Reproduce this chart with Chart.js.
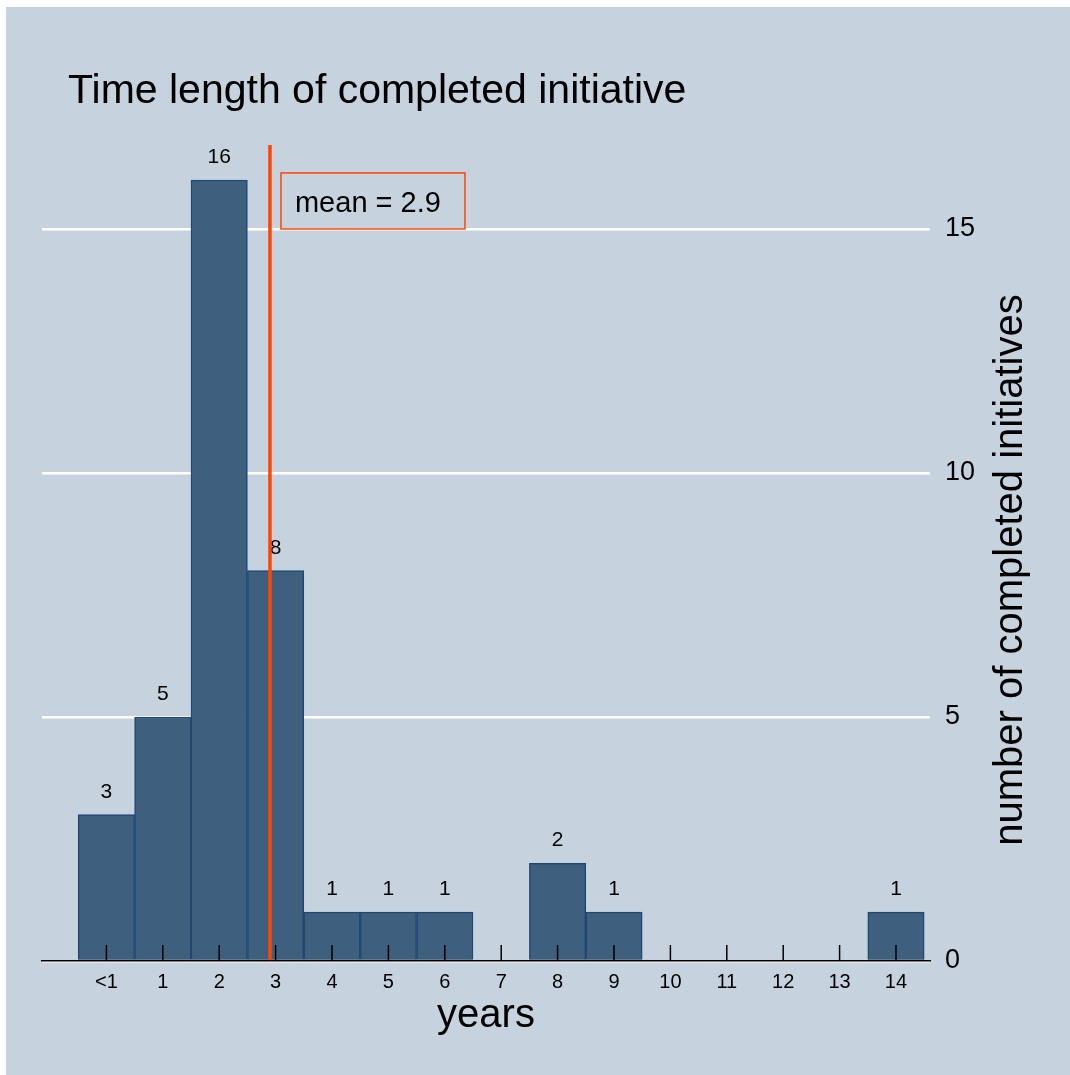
<!doctype html>
<html lang="en">
  <head>
    <title>Time length of completed initiative</title>
    <style>
      body {
        margin: 0;
        background: #ffffff;
      }

      .chart-frame {
        position: absolute;
        left: 6px;
        top: 7px;
        width: 1064px;
        height: 1068px;
        background: #c6d3df;
      }

      canvas {
        display: block;
      }
    </style>
  </head>

  <body>
    <div class="chart-frame">
      <canvas id="timeChart" width="1064" height="1068"></canvas>
    </div>

    <script src="https://cdn.jsdelivr.net/npm/chart.js@4/dist/chart.umd.min.js"></script>
    <script type="text/javascript">
      // Chart data
      const yearLabels = ["<1", "1", "2", "3", "4", "5", "6", "7", "8", "9", "10", "11", "12", "13", "14"];
      const yearPositions = [0, 1, 2, 3, 4, 5, 6, 7, 8, 9, 10, 11, 12, 13, 14];
      const initiativeCounts = [3, 5, 16, 8, 1, 1, 1, 0, 2, 1, 0, 0, 0, 0, 1];
      const countTicks = [0, 5, 10, 15];
      const meanYears = 2.9;
      const meanLabel = "mean = 2.9";
      const chartTitle = "Time length of completed initiative";
      const yTitle = "number of completed initiatives";
      const xTitle = "years";

      const fontFamily = '"Liberation Sans", Arial, Helvetica, sans-serif';
      Chart.defaults.font.family = fontFamily;
      Chart.defaults.color = "#000000";

      // Extra drawing: inward ticks, bar labels, mean line and box, titles
      const overlayPlugin = {
        id: "overlay",
        afterDatasetsDraw(chart) {
          const { ctx, chartArea } = chart;
          const x = chart.scales.x;
          const y = chart.scales.y;
          ctx.save();

          // tick marks pointing up into the plot
          ctx.strokeStyle = "#000000";
          ctx.lineWidth = 1.5;
          x.ticks.forEach((t) => {
            const px = x.getPixelForValue(t.value);
            ctx.beginPath();
            ctx.moveTo(px, chartArea.bottom);
            ctx.lineTo(px, chartArea.bottom - 16);
            ctx.stroke();
          });

          // value labels above the bars
          ctx.fillStyle = "#000000";
          ctx.font = "21px " + fontFamily;
          ctx.textAlign = "center";
          ctx.textBaseline = "alphabetic";
          chart.getDatasetMeta(0).data.forEach((bar, i) => {
            if (initiativeCounts[i] > 0) {
              ctx.fillText(String(initiativeCounts[i]), bar.x, bar.y - 17);
            }
          });

          // mean line
          const mx = x.getPixelForValue(meanYears);
          ctx.strokeStyle = "#ff4500";
          ctx.lineWidth = 3.5;
          ctx.beginPath();
          ctx.moveTo(mx, chartArea.top);
          ctx.lineTo(mx, chartArea.bottom);
          ctx.stroke();

          // mean box
          const boxBottom = y.getPixelForValue(15);
          const boxLeft = mx + 11;
          ctx.lineWidth = 1.5;
          ctx.strokeRect(boxLeft, boxBottom - 56, 184, 56);
          ctx.font = "29px " + fontFamily;
          ctx.textAlign = "left";
          ctx.fillText(meanLabel, boxLeft + 14, boxBottom - 17);

          ctx.restore();
        },
        afterDraw(chart) {
          const { ctx } = chart;
          ctx.save();
          ctx.fillStyle = "#000000";
          ctx.textBaseline = "alphabetic";

          // chart title
          ctx.font = "41px " + fontFamily;
          ctx.textAlign = "left";
          ctx.fillText(chartTitle, 62, 96);

          // y axis title, reading bottom to top
          ctx.font = "40px " + fontFamily;
          ctx.translate(1016, 563);
          ctx.rotate(-Math.PI / 2);
          ctx.textAlign = "center";
          ctx.fillText(yTitle, 0, 0);
          ctx.restore();
        },
      };

      const ctx = document.getElementById("timeChart").getContext("2d");
      const timeChart = new Chart(ctx, {
        type: "bar",
        data: {
          datasets: [
            {
              label: "completed initiatives",
              data: yearPositions.map((v, i) => ({ x: v, y: initiativeCounts[i] })),
              backgroundColor: "#3e607e",
              borderColor: "#1f4872",
              borderWidth: 1.5,
              barPercentage: 1,
              categoryPercentage: 1,
            },
          ],
        },
        options: {
          responsive: false,
          animation: false,
          layout: {
            padding: { left: 36, top: 138, right: 0, bottom: 0 },
          },
          plugins: {
            legend: { display: false },
            title: { display: false },
            tooltip: { enabled: false },
          },
          scales: {
            x: {
              type: "linear",
              min: -1.142,
              max: 14.603,
              offset: false,
              afterBuildTicks: (scale) => {
                scale.ticks = yearPositions.map((v) => ({ value: v }));
              },
              afterFit: (scale) => {
                scale.height = 114;
              },
              ticks: {
                autoSkip: false,
                maxRotation: 0,
                padding: 9,
                color: "#000000",
                font: { size: 20 },
                callback: (value) => {
                  const idx = yearPositions.indexOf(value);
                  return idx >= 0 ? yearLabels[idx] : "";
                },
              },
              grid: {
                drawOnChartArea: false,
                drawTicks: false,
              },
              border: {
                display: true,
                color: "#000000",
                width: 1.5,
                z: 1,
              },
              title: {
                display: true,
                text: xTitle,
                color: "#000000",
                font: { size: 40, lineHeight: 1 },
                padding: { top: 0, bottom: 39 },
              },
            },
            y: {
              position: "right",
              min: 0,
              max: 16.72,
              afterBuildTicks: (scale) => {
                scale.ticks = countTicks.map((v) => ({ value: v }));
              },
              afterFit: (scale) => {
                scale.width = 140;
              },
              ticks: {
                padding: 15,
                color: "#000000",
                font: { size: 27 },
              },
              grid: {
                color: "#ffffff",
                lineWidth: 2.5,
                drawTicks: false,
              },
              border: { display: false },
            },
          },
        },
        plugins: [overlayPlugin],
      });
    </script>
  </body>
</html>
